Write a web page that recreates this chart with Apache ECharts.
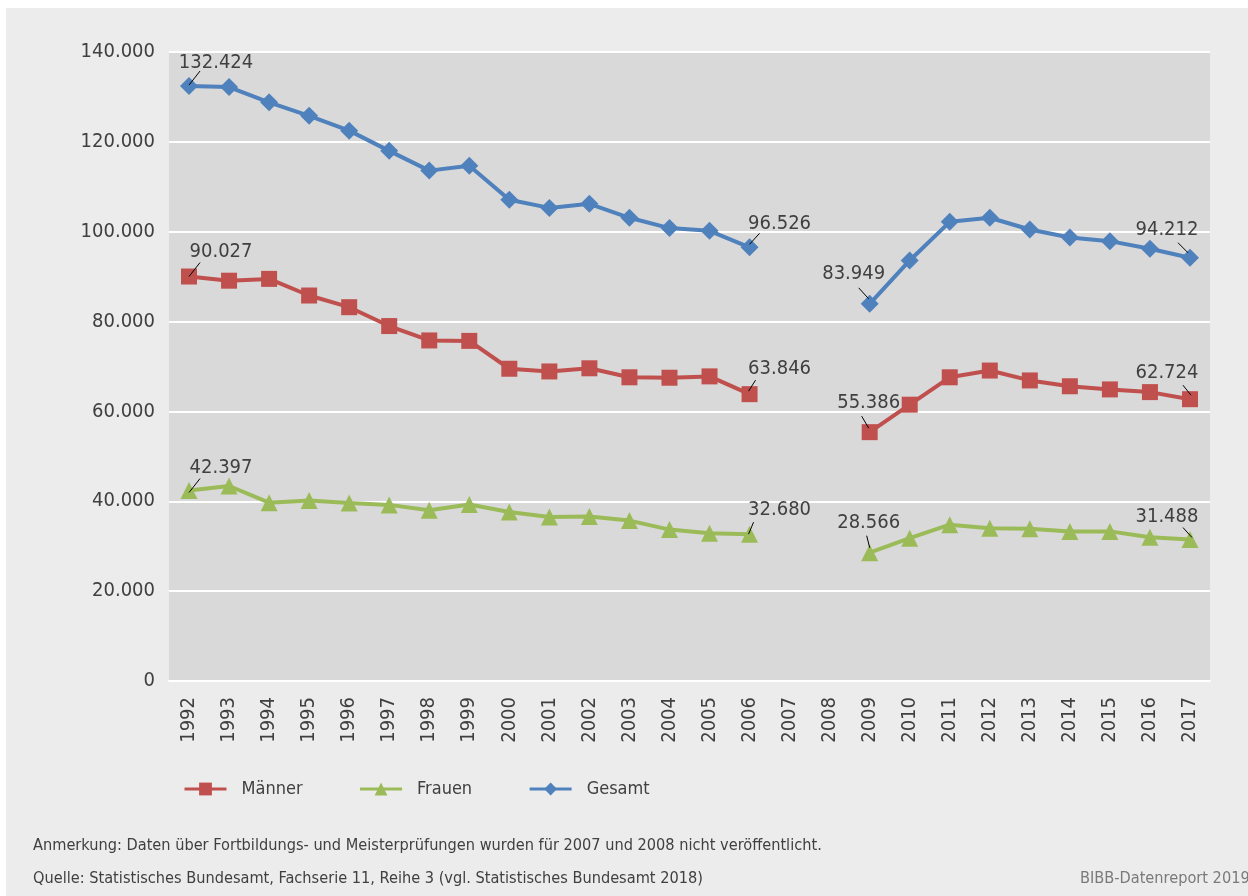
<!DOCTYPE html>
<html>
<head>
<meta charset="utf-8">
<script src="https://cdn.jsdelivr.net/npm/echarts@6/dist/echarts.min.js"></script>
<style>
  html, body { margin: 0; padding: 0; background: #ffffff; width: 1248px; height: 896px; overflow: hidden; }
  #chart { position: absolute; left: 6px; top: 8px; width: 1242px; height: 888px; background: #ececec; }
</style>
</head>
<body>
<div id="chart"></div>
<script>
// ---- data ----
const years = ['1992','1993','1994','1995','1996','1997','1998','1999','2000','2001','2002','2003','2004','2005','2006','2007','2008','2009','2010','2011','2012','2013','2014','2015','2016','2017'];
const maenner = [90027, 89100, 89500, 85800, 83200, 79000, 75800, 75700, 69500, 68900, 69600, 67600, 67500, 67800, 63846, null, null, 55386, 61500, 67600, 69100, 66900, 65600, 64900, 64300, 62724];
const frauen  = [42397, 43400, 39700, 40200, 39600, 39200, 38000, 39300, 37600, 36500, 36600, 35700, 33700, 32900, 32680, null, null, 28566, 31800, 34800, 34000, 33900, 33300, 33300, 32000, 31488];
const gesamt  = [132424, 132200, 128800, 125800, 122500, 118000, 113600, 114700, 107100, 105300, 106200, 103100, 100800, 100200, 96526, null, null, 83949, 93600, 102200, 103100, 100500, 98700, 97900, 96200, 94212];
const seriesNames = ['Männer', 'Frauen', 'Gesamt'];
const labelledIdx = [0, 14, 17, 25];
const yTicks = { min: 0, max: 140000, step: 20000 };
const noteText = 'Anmerkung: Daten über Fortbildungs- und Meisterprüfungen wurden für 2007 und 2008 nicht veröffentlicht.';
const sourceText = 'Quelle: Statistisches Bundesamt, Fachserie 11, Reihe 3 (vgl. Statistisches Bundesamt 2018)';
const brandText = 'BIBB-Datenreport 2019';

// ---- styles ----
const FONT = "'DejaVu Sans Condensed', 'DejaVu Sans', sans-serif";
const TXT = '#404040';
const colors = { 'Männer': '#c0504d', 'Frauen': '#9bbb59', 'Gesamt': '#4f81bd' };
const symbols = { 'Männer': ['rect', 16], 'Frauen': ['triangle', 17], 'Gesamt': ['diamond', 18] };
// label placement relative to marker: [labelDx, labelDy, lineX1, lineY1, lineX2, lineY2]
const labelPlacement = {
  'Männer': { 0: [32, -25, 0, 0, 11, -14], 14: [30, -25, -1, -3, 6, -14], 17: [-1, -29, -8, -16, -1, -4], 25: [-23, -26, -7, -14, 1, -4] },
  'Frauen': { 0: [32, -23, 0, 2, 11, -12], 14: [30, -24, -1, 0, 4, -12], 17: [-1, -30, -3, -17, 0, -5], 25: [-23, -23, -7, -12, 2, -2] },
  'Gesamt': { 0: [27, -23, 0, -1, 11, -15], 14: [30, -24, 0, -3, 10, -14], 17: [-16, -30, -11, -16, -1, -5], 25: [-23, -28, -12, -15, -2, -5] }
};

function fmt(v) {
  return String(Math.round(v)).replace(/\B(?=(\d{3})+(?!\d))/g, '.');
}

const seriesValues = { 'Männer': maenner, 'Frauen': frauen, 'Gesamt': gesamt };

const lineSeries = seriesNames.map(name => ({
  name: name,
  type: 'line',
  data: seriesValues[name],
  connectNulls: false,
  symbol: symbols[name][0],
  symbolSize: symbols[name][1],
  lineStyle: { color: colors[name], width: 4 },
  itemStyle: { color: colors[name] },
  z: name === 'Gesamt' ? 3 : 2,
  emphasis: { disabled: true }
}));

// label points built from the data arrays
const labelData = [];
const labelMeta = [];
seriesNames.forEach(name => {
  labelledIdx.forEach(i => {
    labelData.push([i, seriesValues[name][i]]);
    labelMeta.push(labelPlacement[name][i]);
  });
});

const labelSeries = {
  type: 'custom',
  name: 'labels',
  silent: true,
  z: 10,
  data: labelData,
  renderItem: function (params, api) {
    const p = api.coord([api.value(0), api.value(1)]);
    const m = labelMeta[params.dataIndex];
    return {
      type: 'group',
      children: [
        { type: 'line', shape: { x1: p[0] + m[2], y1: p[1] + m[3], x2: p[0] + m[4], y2: p[1] + m[5] },
          style: { stroke: '#000000', lineWidth: 1 } },
        { type: 'text', x: p[0] + m[0], y: p[1] + m[1],
          style: { text: fmt(api.value(1)), font: '20px ' + FONT, fill: TXT, align: 'center', verticalAlign: 'middle' } }
      ]
    };
  }
};

const chart = echarts.init(document.getElementById('chart'), null, { renderer: 'canvas' });
chart.setOption({
  animation: false,
  backgroundColor: '#ececec',
  grid: {
    left: 163, top: 44, right: 38, bottom: 215,
    show: true, backgroundColor: '#d9d9d9', borderWidth: 0
  },
  xAxis: {
    type: 'category',
    data: years,
    boundaryGap: true,
    axisLine: { show: true, lineStyle: { color: '#ffffff', width: 2 } },
    axisTick: { show: false },
    axisLabel: { rotate: 90, interval: 0, margin: 16, fontFamily: FONT, fontSize: 20, color: TXT },
    splitLine: { show: false }
  },
  yAxis: {
    type: 'value',
    min: yTicks.min, max: yTicks.max, interval: yTicks.step,
    axisLine: { show: false },
    axisTick: { show: false },
    axisLabel: { margin: 14, fontFamily: FONT, fontSize: 20, color: TXT, formatter: v => fmt(v) },
    splitLine: { show: true, lineStyle: { color: '#ffffff', width: 2 } }
  },
  legend: {
    data: seriesNames,
    left: 172, top: 767,
    itemWidth: 42, itemHeight: 16, itemGap: 56,
    lineStyle: { width: 3 },
    textStyle: { fontFamily: FONT, fontSize: 18, color: TXT, padding: [0, 0, 0, 10] }
  },
  graphic: [
    { type: 'text', left: 27, top: 830, style: { text: noteText, font: '16.2px ' + FONT, fill: TXT } },
    { type: 'text', left: 27, top: 863, style: { text: sourceText, font: '16.2px ' + FONT, fill: TXT } },
    { type: 'text', left: 1074, top: 863, style: { text: brandText, font: '16.2px ' + FONT, fill: '#7a7a7a' } }
  ],
  series: lineSeries.concat([labelSeries])
});
</script>
</body>
</html>
